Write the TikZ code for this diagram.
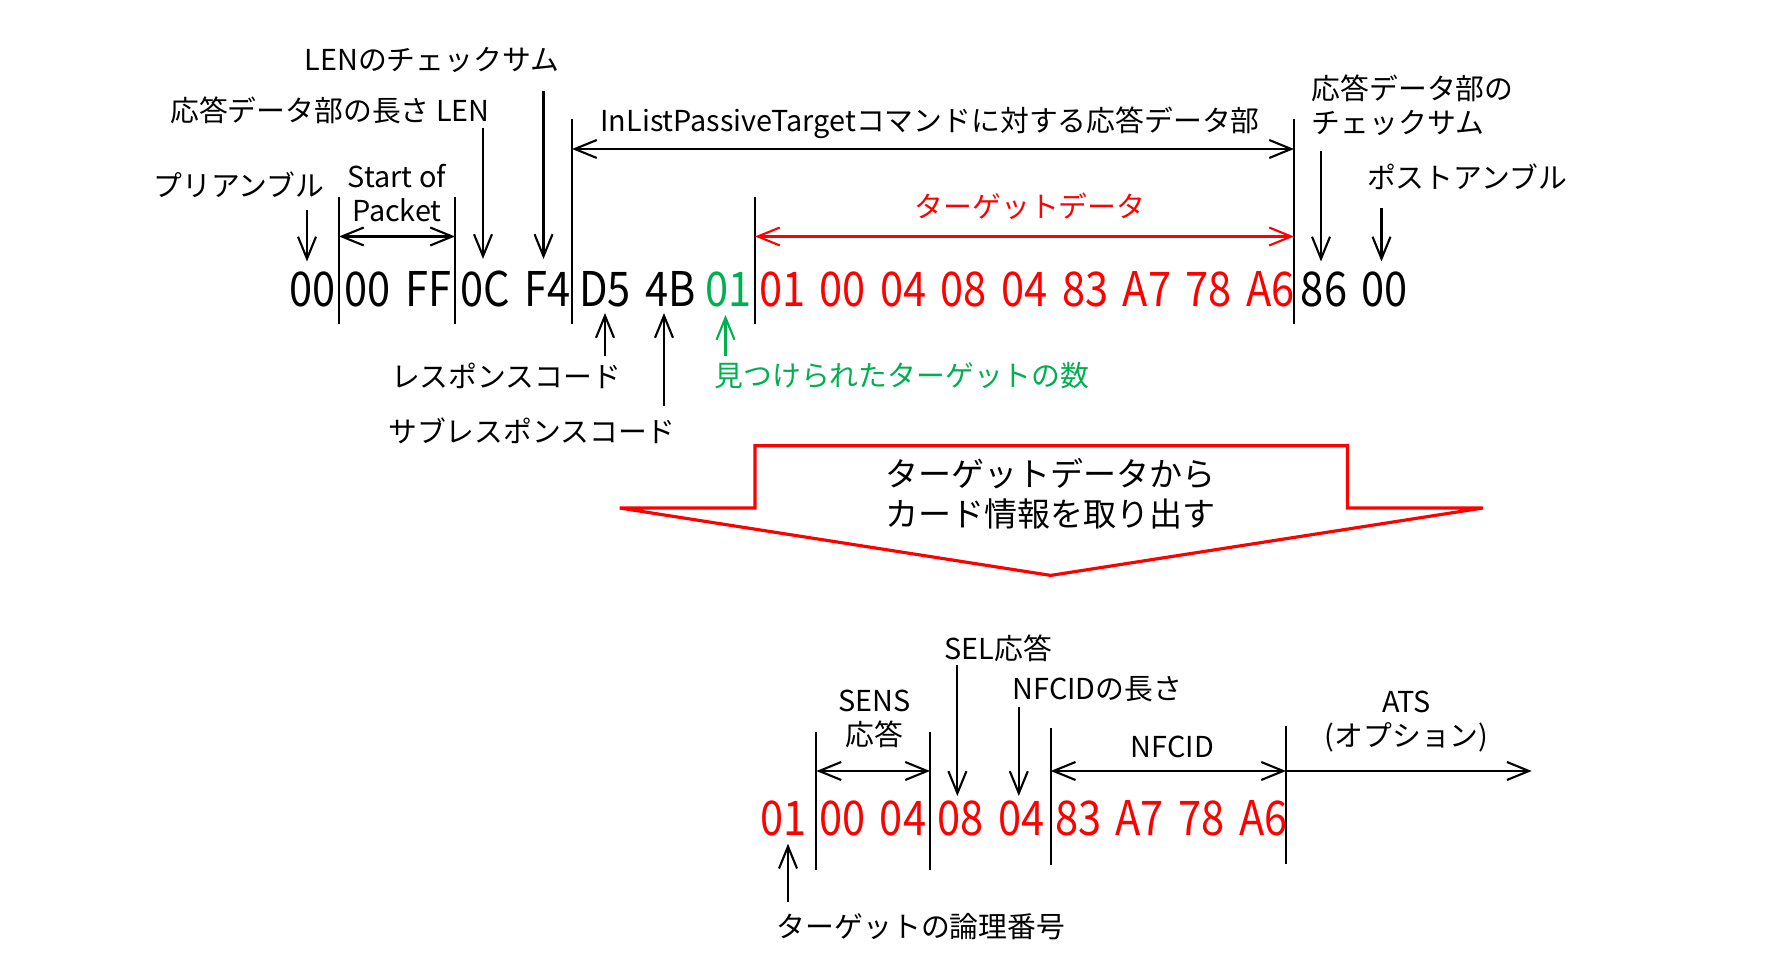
\documentclass[tikz,border=0pt]{standalone}
\usepackage{fontspec}
\setmainfont{Noto Sans CJK JP}
\newfontfamily\hexfont[FakeStretch=0.87,WordSpace=1.55]{Noto Sans CJK JP}
\usetikzlibrary{arrows.meta}
\definecolor{ink}{HTML}{000000}
\definecolor{tdred}{HTML}{FF0000}
\definecolor{cntgreen}{HTML}{00B050}

\begin{document}
\begin{tikzpicture}[x=0.1mm,y=-0.1mm,
  lbl/.style={inner sep=0pt,text=ink,font=\fontsize{8.2}{9.7}\selectfont,align=center},
  hexs/.style={inner sep=0pt,font=\hexfont\fontsize{13.6}{16}\selectfont},
  sep/.style={draw=ink,line width=0.6pt},
  arr/.style={-{Straight Barb[length=2.2mm,width=1.8mm]},line width=0.6pt},
  dblarr/.style={{Straight Barb[length=2.2mm,width=1.8mm]}-{Straight Barb[length=2.2mm,width=1.8mm]},line width=0.6pt},
  bigarr/.style={draw=tdred,line width=0.9pt,line join=miter}]

\useasboundingbox (0,0) rectangle (1783,970);

% --- top frame
\node[hexs] (pre)   at (312.7,289) {00};
\node[hexs] (sop)   at (398,289)   {00 FF};
\node[hexs] (len)   at (515.7,289) {0C F4};
\node[hexs] (rsp)   at (637.3,289) {D5 4B};
\node[hexs,text=cntgreen] (cnt) at (728.9,289) {01};
\node[hexs,text=tdred] (tdata) at (1026.8,289) {01 00 04 08 04 83 A7 78 A6};
\node[hexs] (post)  at (1354.3,289) {86 00};

\coordinate (s1t) at (339,197);  \coordinate (s1b) at (339,324);
\coordinate (s2t) at (455,197);  \coordinate (s2b) at (455,324);
\coordinate (s3t) at (572,119);  \coordinate (s3b) at (572,324);
\coordinate (s4t) at (755,197);  \coordinate (s4b) at (755,324);
\coordinate (s5t) at (1294,119); \coordinate (s5b) at (1294,324);
\draw[sep] (s1t) -- (s1b);
\draw[sep] (s2t) -- (s2b);
\draw[sep] (s3t) -- (s3b);
\draw[sep] (s4t) -- (s4b);
\draw[sep] (s5t) -- (s5b);

\node[lbl] (lpre) at (239,185) {プリアンブル};
\node[lbl] (lsop) at (397,193) {Start of\\Packet};
\node[lbl] (llen) at (330,110) {応答データ部の長さ LEN};
\node[lbl] (lcs)  at (432,60)  {LENのチェックサム};
\node[lbl] (lbody) at (930,123) {InListPassiveTargetコマンドに対する応答データ部};
\node[lbl,text=tdred] (ltd) at (1030,206) {ターゲットデータ};
\node[lbl,anchor=west,align=left] (lbcs) at (1311,105) {応答データ部の\\チェックサム};
\node[lbl] (lpost) at (1467,177) {ポストアンブル};
\node[lbl] (lrc)  at (506,376) {レスポンスコード};
\node[lbl] (lsrc) at (532,431) {サブレスポンスコード};
\node[lbl,text=cntgreen] (lcnt) at (902,376) {見つけられたターゲットの数};

\coordinate (apre1) at (307,210);    \coordinate (apre2) at (307,261.5);
\coordinate (alen1) at (483,128.5);  \coordinate (alen2) at (483,259);
\coordinate (acs1)  at (543.5,91);   \coordinate (acs2)  at (543.5,259);
\coordinate (abcs1) at (1321,151);   \coordinate (abcs2) at (1321,261.5);
\coordinate (apst1) at (1381.5,208); \coordinate (apst2) at (1381.5,261.5);
\coordinate (arc1)  at (605,356);    \coordinate (arc2)  at (605,313);
\coordinate (asrc1) at (664,406);    \coordinate (asrc2) at (664,313);
\coordinate (acnt1) at (725.5,356);  \coordinate (acnt2) at (725.5,315);
\coordinate (dsop1) at (339,236.5);  \coordinate (dsop2) at (455,236.5);
\coordinate (dbdy1) at (572,149);    \coordinate (dbdy2) at (1294,149);
\coordinate (dtd1)  at (755,236.5);  \coordinate (dtd2)  at (1294,236.5);

\draw[arr] (apre1) -- (apre2);
\draw[arr] (alen1) -- (alen2);
\draw[arr] (acs1) -- (acs2);
\draw[arr] (abcs1) -- (abcs2);
\draw[arr] (apst1) -- (apst2);
\draw[arr] (arc1) -- (arc2);
\draw[arr] (asrc1) -- (asrc2);
\draw[arr,draw=cntgreen] (acnt1) -- (acnt2);
\draw[dblarr] (dsop1) -- (dsop2);
\draw[dblarr] (dbdy1) -- (dbdy2);
\draw[dblarr,draw=tdred] (dtd1) -- (dtd2);

% --- big arrow
\draw[bigarr] (755,445.7) -- (1347.5,445.7) -- (1347.5,508) -- (1482.8,508)
  -- (1050.7,575.4) -- (619.7,508) -- (755,508) -- cycle;
\node[lbl,font=\fontsize{9.4}{11.4}\selectfont] (lext) at (1050.7,494) {ターゲットデータから\\カード情報を取り出す};

% --- target data
\node[hexs,text=tdred] (tno)   at (783.5,818.7)  {01};
\node[hexs,text=tdred] (sens)  at (872.7,818.7)  {00 04};
\node[hexs,text=tdred] (sel)   at (991,818.7)    {08 04};
\node[hexs,text=tdred] (nfcid) at (1171.2,818.7) {83 A7 78 A6};

\coordinate (t1t) at (816.4,732); \coordinate (t1b) at (816.4,870);
\coordinate (t2t) at (930,732);   \coordinate (t2b) at (930,870);
\coordinate (t3t) at (1050.7,728); \coordinate (t3b) at (1050.7,865);
\coordinate (t4t) at (1286,726);  \coordinate (t4b) at (1286,864);
\draw[sep] (t1t) -- (t1b);
\draw[sep] (t2t) -- (t2b);
\draw[sep] (t3t) -- (t3b);
\draw[sep] (t4t) -- (t4b);

\node[lbl] (lsens) at (874.4,718.6) {SENS\\応答};
\node[lbl] (lsel)  at (998.4,648)  {SEL応答};
\node[lbl] (lnlen) at (1097.3,689) {NFCIDの長さ};
\node[lbl] (lnfc)  at (1172.3,747) {NFCID};
\node[lbl] (lats)  at (1406.6,722) {ATS\\(オプション)};
\node[lbl] (ltno)  at (921,926.7)  {ターゲットの論理番号};

\coordinate (asel1) at (957.4,665);  \coordinate (asel2) at (957.4,796);
\coordinate (anl1)  at (1018.8,707); \coordinate (anl2)  at (1018.8,796);
\coordinate (atno1) at (788,901.7);  \coordinate (atno2) at (788,843.7);
\coordinate (dsn1) at (816.4,771);   \coordinate (dsn2) at (930,771);
\coordinate (dnf1) at (1050.7,771);  \coordinate (dnf2) at (1286,771);
\coordinate (dats) at (1531.7,771);

\draw[arr] (asel1) -- (asel2);
\draw[arr] (anl1) -- (anl2);
\draw[arr] (atno1) -- (atno2);
\draw[dblarr] (dsn1) -- (dsn2);
\draw[dblarr] (dnf1) -- (dnf2);
\draw[arr] (dnf2) -- (dats);
\end{tikzpicture}
\end{document}
